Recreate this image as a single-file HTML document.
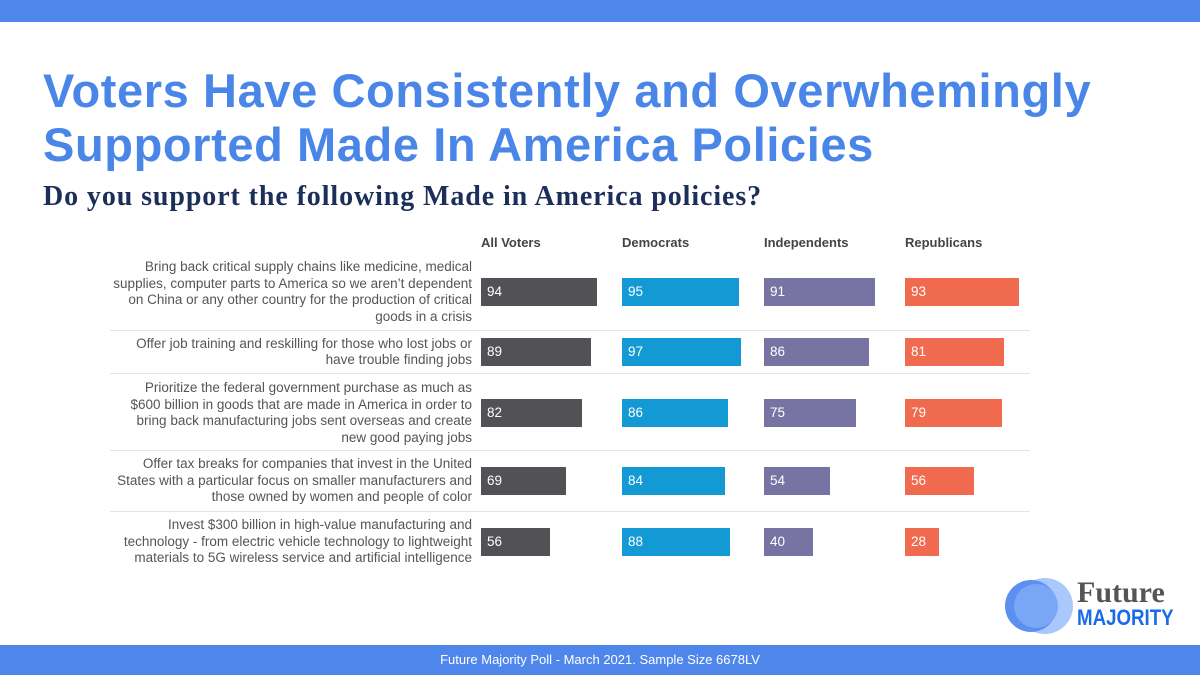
<!DOCTYPE html>
<html><head><meta charset="utf-8"><style>
body{margin:0;width:1200px;height:675px;overflow:hidden;background:#fff;font-family:"Liberation Sans",sans-serif;position:relative}
.abs{position:absolute}
#top{left:0;top:0;width:1200px;height:22px;background:#4f86ec}
#bot{left:0;top:645px;width:1200px;height:30px;background:#4f86ec;color:#fff;font-size:13px;text-align:center;line-height:30px}
#title{left:43px;top:64px;font-size:47px;font-weight:bold;color:#4a86e8;line-height:54px;letter-spacing:0.6px}
#sub{left:43px;top:181px;font-family:"Liberation Serif",serif;font-weight:bold;font-size:28px;color:#1c2e5a;letter-spacing:0.9px}
.hdr{top:235px;font-size:13px;font-weight:bold;color:#444}
.lbl{left:60px;width:412px;text-align:right;font-size:13.5px;color:#555;line-height:16.5px;white-space:nowrap}
.sep{left:110px;width:920px;height:1px;background:#e4e4e4}
.bar{height:28px;color:#fff;font-size:13.5px;line-height:28px;padding-left:6px;box-sizing:border-box}
</style></head><body>
<div id="top" class="abs"></div>
<div id="title" class="abs">Voters Have Consistently and Overwhemingly<br>Supported Made In America Policies</div>
<div id="sub" class="abs">Do you support the following Made in America policies?</div>
<div id="chart"></div>
<svg class="abs" style="left:1003px;top:578px" width="72" height="58">
<circle cx="42" cy="28" r="28" fill="#a9c8fb"/><circle cx="28" cy="28" r="26" fill="#5b8ff0"/><circle cx="33" cy="28" r="22" fill="#7aa6f6"/></svg>
<div class="abs" style="left:1077px;top:578px;font-family:'Liberation Serif',serif;font-weight:bold;font-size:30px;color:#555;line-height:30px">Future</div>
<div class="abs" style="left:1077px;top:605px;font-weight:bold;font-size:22px;color:#1a6be8;transform:scaleX(0.85);transform-origin:left;line-height:26px">MAJORITY</div>
<div id="bot" class="abs">Future Majority Poll - March 2021. Sample Size 6678LV</div>
<script>
const groups=["All Voters","Democrats","Independents","Republicans"];
const questions=[["Bring back critical supply chains like medicine, medical","supplies, computer parts to America so we aren’t dependent","on China or any other country for the production of critical","goods in a crisis"],["Offer job training and reskilling for those who lost jobs or","have trouble finding jobs"],["Prioritize the federal government purchase as much as","$600 billion in goods that are made in America in order to","bring back manufacturing jobs sent overseas and create","new good paying jobs"],["Offer tax breaks for companies that invest in the United","States with a particular focus on smaller manufacturers and","those owned by women and people of color"],["Invest $300 billion in high-value manufacturing and","technology - from electric vehicle technology to lightweight","materials to 5G wireless service and artificial intelligence"]];
const allVoters=[94,89,82,69,56];
const democrats=[95,97,86,84,88];
const independents=[91,86,75,54,40];
const republicans=[93,81,79,56,28];
const series=[allVoters,democrats,independents,republicans];
const colors=["#525256","#1399d4","#7774a4","#ef6a4f"];
const colX=[481,622,764,905];
const scale=[1.235,1.23,1.22,1.227];
const rowY=[278,338,399,467,528];
const seps=[330,373,450,511];
const c=document.getElementById('chart');
groups.forEach((g,i)=>{const d=document.createElement('div');d.className='abs hdr';d.style.left=colX[i]+'px';d.textContent=g;


c.appendChild(d);});
seps.forEach(y=>{const d=document.createElement('div');d.className='abs sep';d.style.top=y+'px';


c.appendChild(d);});
questions.forEach((q,r)=>{const l=document.createElement('div');l.className='abs lbl';
l.style.top=(rowY[r]+14-q.length*16.5/2)+'px';l.innerHTML=q.join('<br>');


c.appendChild(l);
series.forEach((s,i)=>{const b=document.createElement('div');b.className='abs bar';b.style.left=colX[i]+'px';b.style.top=rowY[r]+'px';b.style.width=(s[r]*scale[i])+'px';b.style.background=colors[i];b.textContent=s[r];


c.appendChild(b);});});
</script>
</body></html>
